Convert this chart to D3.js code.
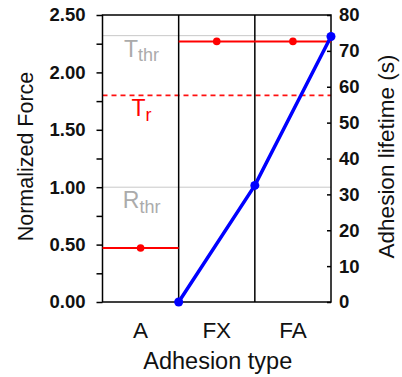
<!DOCTYPE html>
<html>
<head>
<meta charset="utf-8">
<script src="https://cdn.jsdelivr.net/npm/d3@7"></script>
<style>
  html, body { margin: 0; padding: 0; background: #fff; }
  svg { display: block; font-family: "Liberation Sans", Arial, Helvetica, sans-serif; }
</style>
</head>
<body>
<svg id="chart" width="402" height="377"></svg>
<script>
// ---- data ----
const categories = ["A", "FX", "FA"];
const forceValues = [0.47, 2.27, 2.27];          // Normalized force (left axis)
const lifetimeValues = [0, 32.5, 74];            // Adhesion lifetime (s), right axis, at right edge of each band
const thresholdNames = ["T", "T", "R"];
const thresholdSubs = ["thr", "r", "thr"];
const thresholdValues = [2.32, 1.8, 1.0];
const leftTicks = [0, 0.25, 0.5, 0.75, 1.0, 1.25, 1.5, 1.75, 2.0, 2.25, 2.5];
const leftTickLabels = ["0.00", "", "0.50", "", "1.00", "", "1.50", "", "2.00", "", "2.50"];
const rightTicks = [0, 10, 20, 30, 40, 50, 60, 70, 80];

// ---- layout ----
const W = 402, H = 377;
const m = { left: 102.5, top: 15, right: 71, bottom: 75 };
const iw = W - m.left - m.right, ih = H - m.top - m.bottom;

const svg = d3.select("#chart");
const g = svg.append("g").attr("transform", `translate(${m.left},${m.top})`);

const x = d3.scaleBand().domain(categories).range([0, iw]).padding(0);
const yL = d3.scaleLinear().domain([0, 2.5]).range([ih, 0]);
const yR = d3.scaleLinear().domain([0, 80]).range([ih, 0]);

// threshold lines
const thrColors = ["#c8c8c8", "#ff1010", "#c8c8c8"];
const textColors = ["#ababab", "#ff0000", "#ababab"];
thresholdValues.forEach((v, i) => {
  g.append("line")
    .attr("x1", 0).attr("x2", iw)
    .attr("y1", yL(v)).attr("y2", yL(v))
    .attr("stroke", thrColors[i])
    .attr("stroke-width", i === 1 ? 1.6 : 1)
    .attr("stroke-dasharray", i === 1 ? "5,4" : null);
  const t = g.append("text")
    .attr("x", x("A") + x.bandwidth() / 2 + 1)
    .attr("y", yL(v) + 21)
    .attr("text-anchor", "middle")
    .attr("fill", textColors[i])
    .attr("font-size", 23);
  t.append("tspan").text(thresholdNames[i]);
  t.append("tspan").attr("font-size", 18).attr("dy", 4.5).text(thresholdSubs[i]);
});

// frame
g.append("rect").attr("x", 0).attr("y", 0).attr("width", iw).attr("height", ih)
  .attr("fill", "none").attr("stroke", "#000").attr("stroke-width", 1.5);
// dividers between categories
categories.slice(1).forEach(c => {
  g.append("line").attr("x1", x(c)).attr("x2", x(c)).attr("y1", 0).attr("y2", ih)
    .attr("stroke", "#000").attr("stroke-width", 1.5);
});

// left axis
const axL = g.append("g").call(
  d3.axisLeft(yL).tickValues(leftTicks).tickSize(6).tickSizeOuter(0).tickPadding(11)
    .tickFormat((d, i) => leftTickLabels[i])
);
axL.select(".domain").remove();
axL.selectAll("line").attr("stroke", "#000").attr("stroke-width", 1.5);
axL.selectAll("text").attr("font-size", 18.5).attr("font-weight", "bold")
  .attr("font-family", "Liberation Sans, Arial, sans-serif").attr("fill", "#111");

// right axis
const axR = g.append("g").attr("transform", `translate(${iw},0)`).call(
  d3.axisRight(yR).tickValues(rightTicks).tickSizeInner(-4).tickSizeOuter(0).tickPadding(8)
);
axR.select(".domain").remove();
axR.selectAll("line").attr("stroke", "#000").attr("stroke-width", 1.5);
axR.selectAll("text").attr("font-size", 18.5).attr("font-weight", "bold")
  .attr("font-family", "Liberation Sans, Arial, sans-serif").attr("fill", "#111");

// category labels (bottom axis)
const axB = g.append("g").attr("transform", `translate(0,${ih})`).call(
  d3.axisBottom(x).tickSize(0).tickPadding(20)
);
axB.select(".domain").remove();
axB.selectAll("text").attr("font-size", 22.5)
  .attr("font-family", "Liberation Sans, Arial, sans-serif").attr("fill", "#111");

// red force segments + dots
categories.forEach((c, i) => {
  g.append("line")
    .attr("x1", x(c)).attr("x2", x(c) + x.bandwidth())
    .attr("y1", yL(forceValues[i])).attr("y2", yL(forceValues[i]))
    .attr("stroke", "#ff0000").attr("stroke-width", 2);
});
g.selectAll(".fdot").data(categories).join("circle")
  .attr("cx", c => x(c) + x.bandwidth() / 2)
  .attr("cy", (c, i) => yL(forceValues[i]))
  .attr("r", 3.8).attr("fill", "#ff0000");

// blue lifetime line + dots
const pts = categories.map((c, i) => [x(c) + x.bandwidth(), yR(lifetimeValues[i])]);
g.append("path").attr("d", d3.line()(pts))
  .attr("fill", "none").attr("stroke", "#0000ff").attr("stroke-width", 3.5);
g.selectAll(".ldot").data(pts).join("circle")
  .attr("cx", d => d[0]).attr("cy", d => d[1]).attr("r", 4.5).attr("fill", "#0000ff");

// axis titles
svg.append("text")
  .attr("transform", `translate(33,${m.top + ih / 2 - 2}) rotate(-90)`)
  .attr("text-anchor", "middle").attr("font-size", 21.5).attr("fill", "#111")
  .text("Normalized Force");
svg.append("text")
  .attr("transform", `translate(394,${m.top + ih / 2 - 2}) rotate(-90)`)
  .attr("text-anchor", "middle").attr("font-size", 22.5).attr("fill", "#111")
  .text("Adhesion lifetime (s)");
svg.append("text")
  .attr("x", m.left + iw / 2 + 1).attr("y", 369)
  .attr("text-anchor", "middle").attr("font-size", 23.5).attr("fill", "#111")
  .text("Adhesion type");
</script>
</body>
</html>
